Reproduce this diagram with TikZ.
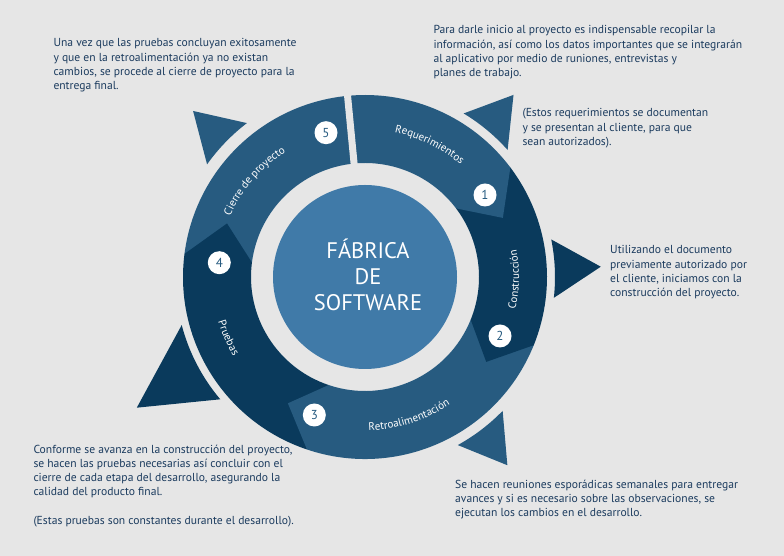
\documentclass[tikz,border=0pt]{standalone}
\usepackage{fontspec}
\setmainfont{PT Sans}
\usepackage{tikz}
\usetikzlibrary{decorations.text}

\definecolor{fondo}{HTML}{E6E6E6}
\definecolor{azulmedio}{HTML}{275B80}
\definecolor{azuloscuro}{HTML}{0A3A5C}
\definecolor{azulcentro}{HTML}{407AA8}
\definecolor{textoazul}{HTML}{1B3B5E}

\begin{document}
\begin{tikzpicture}[x=1pt,y=1pt,
    texto/.style={font=\fontsize{11.6}{14.3}\selectfont, text=textoazul, align=left, anchor=north west, inner sep=0pt},
    numero/.style={circle, fill=white, text=azulmedio, minimum size=23pt, inner sep=0pt, font=\fontsize{13}{13}\selectfont},
    etiqueta/.style={decorate, decoration={text along path, text align=center, text color=white, text={|\fontsize{11}{12}\selectfont|#1}}}]

        % Draw background
        \fill[fondo] (0,0) rectangle (784,556);
        \useasboundingbox (0,0) rectangle (784,556);

        \begin{scope}[shift={(365,279)}]
        % Draw outer triangles
        \fill[azulmedio] (58.9:191) arc[start angle=58.9, end angle=41.7, radius=191] -- (50.8:235) -- cycle;
        \fill[azuloscuro] (11.4:190) arc[start angle=11.4, end angle=-6.3, radius=190] -- (2.5:236) -- cycle;
        \fill[azulmedio] (-44.2:192) arc[start angle=-44.2, end angle=-61.1, radius=192] -- (-52.9:236) -- cycle;
        \fill[azuloscuro] (194.7:189.5) arc[start angle=194.7, end angle=220.2, radius=189.5] -- (209.8:263) -- cycle;
        \fill[azulmedio] (127.5:194) arc[start angle=127.5, end angle=144.5, radius=194] -- (136:239) -- cycle;

        % Draw ring segments (5 first, 1 last)
        \fill[azulmedio] (172.7:182) arc[start angle=172.7, end angle=95.5, radius=182] -- (95.5:114) arc[start angle=95.5, end angle=172.7, radius=114] -- cycle;
        \fill[azuloscuro] (251.4:182) arc[start angle=251.4, end angle=172.7, radius=182] -- (158.8:148) -- (172.7:114) arc[start angle=172.7, end angle=251.4, radius=114] -- cycle;
        \fill[azulmedio] (338:182) arc[start angle=338, end angle=251.4, radius=182] -- (238.6:148) -- (251.4:114) arc[start angle=251.4, end angle=338, radius=114] -- cycle;
        \fill[azuloscuro] (37:182) arc[start angle=37, end angle=-22, radius=182] -- (-35:148) -- (-22:114) arc[start angle=-22, end angle=37, radius=114] -- cycle;
        \fill[azulmedio] (95.5:182) arc[start angle=95.5, end angle=37, radius=182] -- (23.2:150) -- (37:114) arc[start angle=37, end angle=95.5, radius=114] -- cycle;

        % Gap between 5 and 1
        \draw[fondo, line width=7pt] (95.5:108) -- (95.5:188);

        % Draw center circle
        \fill[azulcentro] (0,0) circle[radius=92];
        \node[text=white, font=\fontsize{22.5}{26}\selectfont, align=center, inner sep=0pt] (centro) at (3,2) {FÁBRICA\\DE\\SOFTWARE};

        % Segment labels
        \path[etiqueta=Requerimientos] (94:147.5) arc[start angle=94, end angle=34, radius=147.5];
        \path[etiqueta=Construcción] (-31:154) arc[start angle=-31, end angle=29, radius=154];
        \path[etiqueta=Retroalimentación] (257.5:153.5) arc[start angle=257.5, end angle=317.5, radius=153.5];
        \path[etiqueta=Pruebas] (184:153.5) arc[start angle=184, end angle=224, radius=153.5];
        \path[etiqueta=Cierre de proyecto] (169:148) arc[start angle=169, end angle=109, radius=148];
        \end{scope}

        % Step numbers
        \node[numero] (n1) at (485,361) {1};
        \node[numero] (n2) at (500,220) {2};
        \node[numero] (n3) at (314.3,141) {3};
        \node[numero] (n4) at (219.3,293.3) {4};
        \node[numero] (n5) at (326,423.3) {5};

        % Descriptions
        \node[texto] (cierre) at (53.3,517.5) {Una vez que las pruebas concluyan exitosamente\\y que en la retroalimentación ya no existan\\cambios, se procede al cierre de proyecto para la\\entrega final.};
        \node[texto] (inicio) at (433.3,530.5) {Para darle inicio al proyecto es indispensable recopilar la\\información, así como los datos importantes que se integrarán\\al aplicativo por medio de runiones, entrevistas y\\planes de trabajo.};
        \node[texto] (requisitos) at (522.3,447.5) {(Estos requerimientos se documentan\\y se presentan al cliente, para que\\sean autorizados).};
        \node[texto] (construccion) at (610,310.5) {Utilizando el documento\\previamente autorizado por\\el cliente, iniciamos con la\\construcción del proyecto.};
        \node[texto] (retro) at (455,76.5) {Se hacen reuniones esporádicas semanales para entregar\\avances y si es necesario sobre las observaciones, se\\ejecutan los cambios en el desarrollo.};
        \node[texto] (pruebas) at (33.3,111.5) {Conforme se avanza en la construcción del proyecto,\\se hacen las pruebas necesarias así concluir con el\\cierre de cada etapa del desarrollo, asegurando la\\calidad del producto final.\\[14.3pt](Estas pruebas son constantes durante el desarrollo).};

\end{tikzpicture}
\end{document}
